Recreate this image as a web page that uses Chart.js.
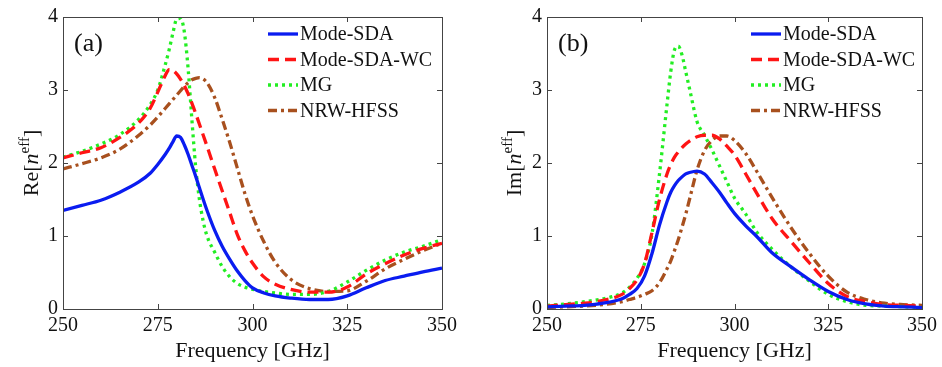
<!DOCTYPE html>
<html>
<head>
<meta charset="utf-8">
<script src="https://cdn.jsdelivr.net/npm/chart.js@4.4.1/dist/chart.umd.min.js"></script>
<style>
  html, body { margin: 0; padding: 0; background: #fff; }
  #wrap { position: relative; width: 942px; height: 367px; }
  canvas { position: absolute; top: 0; }
  #ca { left: 0; }
  #cb { left: 471px; }
</style>
</head>
<body>
<div id="wrap">
  <canvas id="ca" width="471" height="367"></canvas>
  <canvas id="cb" width="471" height="367"></canvas>
</div>
<script>
// ---------- data ----------
const seriesNames = ['Mode-SDA', 'Mode-SDA-WC', 'MG', 'NRW-HFSS'];
const xTicks = [250, 275, 300, 325, 350];
const yTicks = [0, 1, 2, 3, 4];

// Panel (a): Re[n_eff]
const freqA = [250,255,260,265,270,273,275,277,278,279,280,281,282,283,284,285,286,287,288,290,292,294,296,298,300,303,306,310,315,320,325,330,335,340,345,350];
const reSDA   = [1.35,1.42,1.49,1.60,1.74,1.86,1.98,2.12,2.20,2.29,2.37,2.35,2.25,2.12,1.97,1.82,1.66,1.50,1.35,1.08,0.86,0.68,0.52,0.39,0.29,0.22,0.18,0.15,0.13,0.13,0.18,0.29,0.39,0.45,0.51,0.56];
const reSDAWC = [2.07,2.14,2.21,2.35,2.55,2.75,2.97,3.20,3.28,3.27,3.22,3.15,3.06,2.95,2.82,2.68,2.53,2.38,2.23,1.92,1.62,1.32,1.02,0.80,0.63,0.44,0.34,0.27,0.23,0.23,0.30,0.48,0.62,0.74,0.83,0.90];
const reMG    = [2.08,2.16,2.26,2.39,2.60,2.80,3.00,3.35,3.55,3.78,3.97,3.98,3.80,3.30,2.60,1.95,1.50,1.20,1.00,0.78,0.58,0.44,0.35,0.30,0.27,0.24,0.22,0.20,0.20,0.24,0.37,0.53,0.67,0.78,0.86,0.95];
const reNRW   = [1.92,1.99,2.07,2.19,2.38,2.52,2.63,2.75,2.81,2.87,2.93,2.99,3.05,3.10,3.14,3.16,3.17,3.15,3.10,2.90,2.60,2.28,1.93,1.58,1.28,0.92,0.64,0.41,0.28,0.24,0.25,0.38,0.55,0.68,0.80,0.90];

// Panel (b): Im[n_eff]
const freqB = [250,255,260,265,270,272,274,276,278,280,282,283,284,285,286,287,288,290,292,294,296,298,300,303,306,310,315,320,325,330,335,340,345,350];
const imSDA   = [0.03,0.04,0.05,0.08,0.14,0.20,0.28,0.45,0.76,1.15,1.47,1.60,1.69,1.76,1.81,1.85,1.87,1.89,1.85,1.73,1.60,1.45,1.31,1.14,0.99,0.77,0.58,0.40,0.24,0.13,0.07,0.04,0.03,0.02];
const imSDAWC = [0.04,0.06,0.08,0.12,0.20,0.28,0.40,0.62,1.05,1.50,1.85,1.98,2.08,2.15,2.21,2.26,2.30,2.36,2.38,2.38,2.33,2.23,2.11,1.85,1.58,1.24,0.93,0.63,0.35,0.17,0.10,0.06,0.05,0.04];
const imMG    = [0.05,0.07,0.10,0.14,0.22,0.30,0.42,0.62,1.03,1.85,2.80,3.25,3.55,3.60,3.48,3.25,3.02,2.57,2.38,2.18,1.96,1.74,1.52,1.30,1.05,0.82,0.58,0.38,0.20,0.10,0.05,0.04,0.03,0.02];
const imNRW   = [0.02,0.03,0.04,0.06,0.10,0.13,0.16,0.20,0.25,0.36,0.55,0.66,0.80,0.95,1.12,1.30,1.50,1.90,2.17,2.31,2.37,2.37,2.31,2.13,1.88,1.53,1.12,0.76,0.45,0.23,0.13,0.08,0.06,0.05];

// ---------- styles ----------
const styles = [
  { color: '#0a1cf0', dash: [] },
  { color: '#ff1414', dash: [11, 6] },
  { color: '#22ee22', dash: [3, 4] },
  { color: '#a8501e', dash: [9, 4, 3, 4] }
];
const SERIF = '"Liberation Serif", "DejaVu Serif", serif';

function toXY(xs, ys) { return xs.map((x, i) => ({ x: x, y: ys[i] })); }

function makeDatasets(xs, arrays) {
  return arrays.map((ys, i) => ({
    label: seriesNames[i],
    data: toXY(xs, ys),
    borderColor: styles[i].color,
    borderDash: styles[i].dash,
    borderWidth: 3.3,
    borderCapStyle: 'butt',
    pointRadius: 0,
    fill: false,
    cubicInterpolationMode: 'monotone',
    tension: 0.4
  }));
}

function framePlugin(opts) {
  return {
    id: 'frame' + opts.tag,
    afterDraw(chart) {
      const ctx = chart.ctx;
      const a = chart.chartArea;
      const xs = chart.scales.x, ys = chart.scales.y;
      ctx.save();
      // box
      ctx.strokeStyle = '#444';
      ctx.lineWidth = 1;
      ctx.setLineDash([]);
      ctx.strokeRect(Math.round(a.left) + 0.5, Math.round(a.top) + 0.5,
                     Math.round(a.right - a.left), Math.round(a.bottom - a.top));
      // inward ticks
      const tl = 5;
      ctx.beginPath();
      xTicks.forEach(v => {
        const px = Math.round(xs.getPixelForValue(v)) + 0.5;
        ctx.moveTo(px, a.bottom); ctx.lineTo(px, a.bottom - tl);
        ctx.moveTo(px, a.top); ctx.lineTo(px, a.top + tl);
      });
      yTicks.forEach(v => {
        const py = Math.round(ys.getPixelForValue(v)) + 0.5;
        ctx.moveTo(a.left, py); ctx.lineTo(a.left + tl, py);
        ctx.moveTo(a.right, py); ctx.lineTo(a.right - tl, py);
      });
      ctx.stroke();

      // x title
      ctx.fillStyle = '#111';
      ctx.font = '22px ' + SERIF;
      ctx.textAlign = 'center';
      ctx.textBaseline = 'alphabetic';
      ctx.fillText('Frequency [GHz]', (a.left + a.right) / 2, 357);

      // y title (rotated, with italic n and superscript eff)
      ctx.save();
      ctx.translate(opts.yTitleX, 163);
      ctx.rotate(-Math.PI / 2);
      const parts = [
        { t: opts.yPrefix + '[', f: '22px ' + SERIF, dy: 0 },
        { t: 'n', f: 'italic 22px ' + SERIF, dy: 0 },
        { t: 'eff', f: '15px ' + SERIF, dy: -9 },
        { t: ']', f: '22px ' + SERIF, dy: 0 }
      ];
      let total = 0;
      parts.forEach(p => { ctx.font = p.f; p.w = ctx.measureText(p.t).width; total += p.w; });
      let cx = -total / 2;
      ctx.textAlign = 'left';
      parts.forEach(p => { ctx.font = p.f; ctx.fillText(p.t, cx, p.dy); cx += p.w; });
      ctx.restore();

      // panel label
      ctx.font = '26px ' + SERIF;
      ctx.textAlign = 'left';
      ctx.fillText(opts.panel, a.left + 11, 51);

      // legend
      ctx.font = '20px ' + SERIF;
      ctx.textBaseline = 'middle';
      chart.data.datasets.forEach((ds, i) => {
        const y = 34 + i * 25.5;
        ctx.strokeStyle = ds.borderColor;
        ctx.lineWidth = 3.3;
        ctx.setLineDash(ds.borderDash);
        ctx.beginPath();
        ctx.moveTo(opts.legX, y);
        ctx.lineTo(opts.legX + 30, y);
        ctx.stroke();
        ctx.setLineDash([]);
        ctx.fillStyle = '#111';
        ctx.fillText(ds.label, opts.legX + 32, y + 1);
      });
      ctx.restore();
    }
  };
}

function makeChart(id, xs, arrays, opts) {
  return new Chart(document.getElementById(id), {
    type: 'line',
    data: { datasets: makeDatasets(xs, arrays) },
    options: {
      responsive: false,
      devicePixelRatio: 1,
      animation: false,
      layout: { padding: { top: 15, right: opts.padRight, left: 0, bottom: 0 } },
      plugins: { legend: { display: false }, tooltip: { enabled: false } },
      scales: {
        x: {
          type: 'linear', min: 250, max: 350,
          afterBuildTicks: s => { s.ticks = xTicks.map(v => ({ value: v })); },
          afterFit: s => { s.height = 58; },
          grid: { display: false, drawTicks: false },
          border: { display: false },
          ticks: { color: '#111', font: { family: SERIF, size: 20 }, padding: 5, maxRotation: 0 }
        },
        y: {
          type: 'linear', min: 0, max: 4,
          afterBuildTicks: s => { s.ticks = yTicks.map(v => ({ value: v })); },
          afterFit: s => { s.width = opts.yWidth; },
          grid: { display: false, drawTicks: false },
          border: { display: false },
          ticks: { color: '#111', font: { family: SERIF, size: 20 }, padding: 5 }
        }
      }
    },
    plugins: [framePlugin(opts)]
  });
}

makeChart('ca', freqA, [reSDA, reSDAWC, reMG, reNRW],
  { tag: 'a', padRight: 29, yWidth: 63, yTitleX: 38, yPrefix: 'Re', panel: '(a)', legX: 268 });
makeChart('cb', freqB, [imSDA, imSDAWC, imMG, imNRW],
  { tag: 'b', padRight: 17, yWidth: 76, yTitleX: 50, yPrefix: 'Im', panel: '(b)', legX: 280 });
</script>
</body>
</html>
